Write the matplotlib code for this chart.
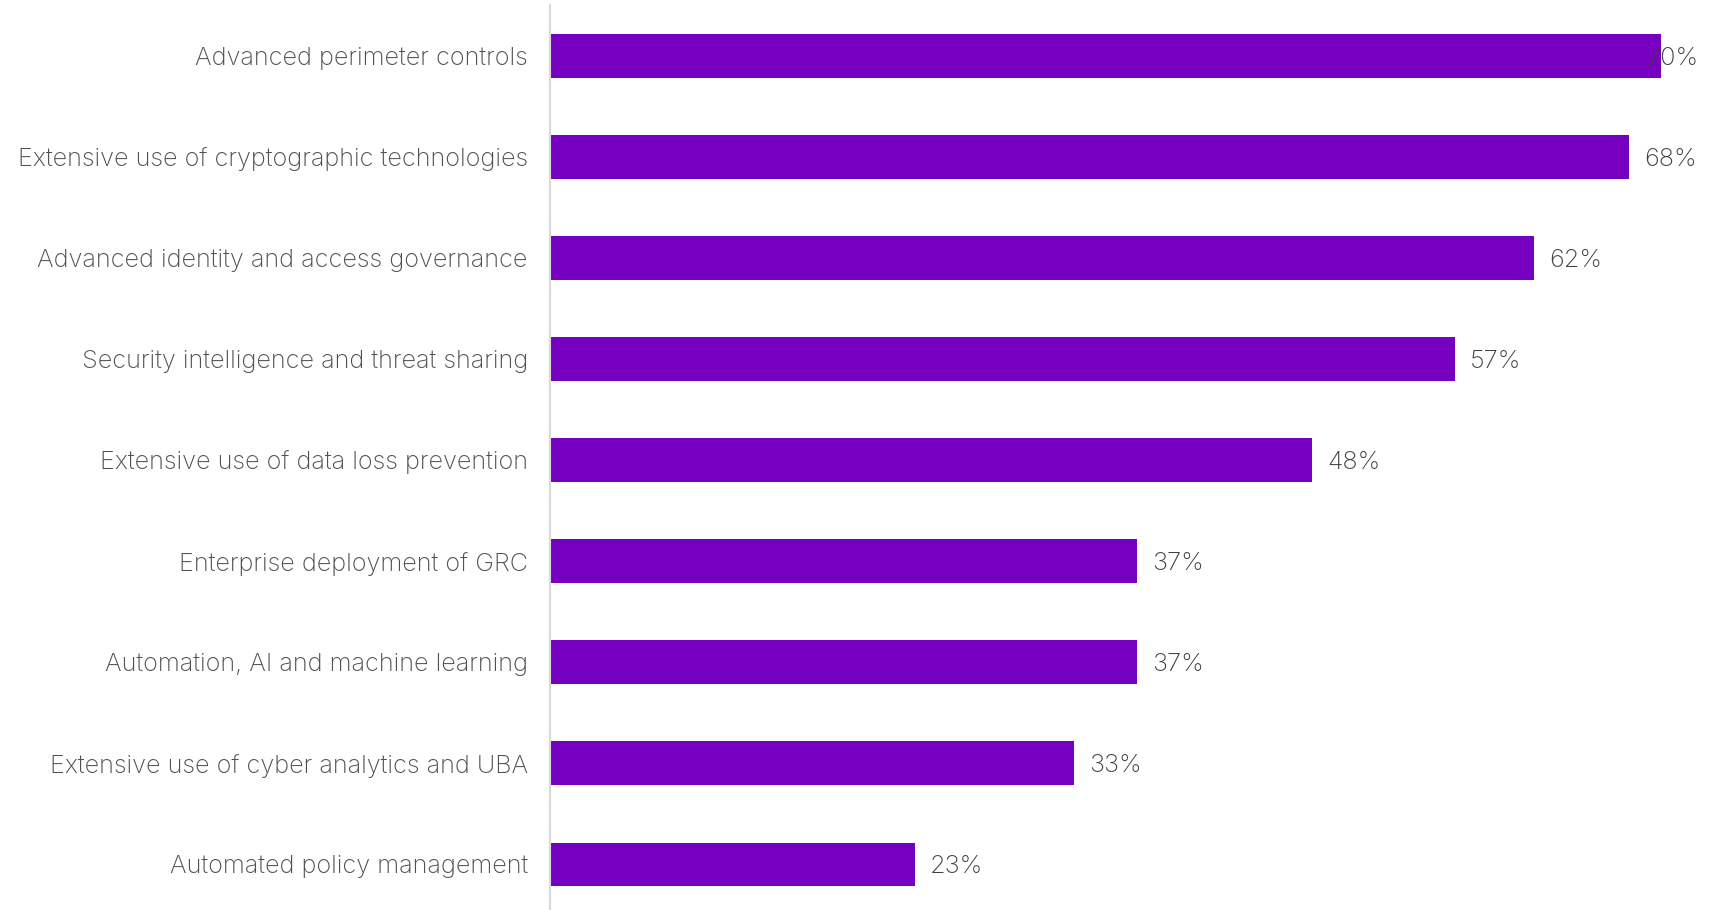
import matplotlib.pyplot as plt

# survey results: share of organisations using each technology
categories = [
    'Advanced perimeter controls',
    'Extensive use of cryptographic technologies',
    'Advanced identity and access governance',
    'Security intelligence and threat sharing',
    'Extensive use of data loss prevention',
    'Enterprise deployment of GRC',
    'Automation, AI and machine learning',
    'Extensive use of cyber analytics and UBA',
    'Automated policy management',
]
values = [70, 68, 62, 57, 48, 37, 37, 33, 23]

plt.rcParams['font.family'] = ['Inter', 'DejaVu Sans']

fig = plt.figure(figsize=(17.29, 9.10), dpi=100)
ax = fig.add_axes([550 / 1729, 0, 1150 / 1729, 1 - 5 / 910])

y = range(len(categories))
ax.barh(y, values, height=0.435, color='#7500c0', zorder=2)

xmax = 72.46
ax.set_xlim(0, xmax)
ax.set_ylim(len(categories) - 0.55, -0.5)

ax.set_yticks(list(y))
ax.set_yticklabels(categories, fontsize=18.2, color='#505050', fontweight='light')
for lbl in ax.get_yticklabels():
    lbl.set_verticalalignment('center_baseline')
ax.tick_params(axis='y', length=0, pad=16)
ax.set_xticks([])

for s in ['top', 'right', 'bottom']:
    ax.spines[s].set_visible(False)
ax.spines['left'].set_color('#d9d9d9')
ax.spines['left'].set_linewidth(1.5)

# value labels; the longest bar's label is pulled back inside the plot area
for i, v in enumerate(values):
    if v + 3.6 > xmax:
        ax.text(xmax - 0.1, i, f'{v}%', ha='right', va='center_baseline',
                fontsize=18.2, color='#404040', fontweight='light', zorder=3)
    else:
        ax.text(v + 0.95, i, f'{v}%', ha='left', va='center_baseline',
                fontsize=18.2, color='#404040', fontweight='light', zorder=3)

plt.savefig('out.png', dpi=100)
